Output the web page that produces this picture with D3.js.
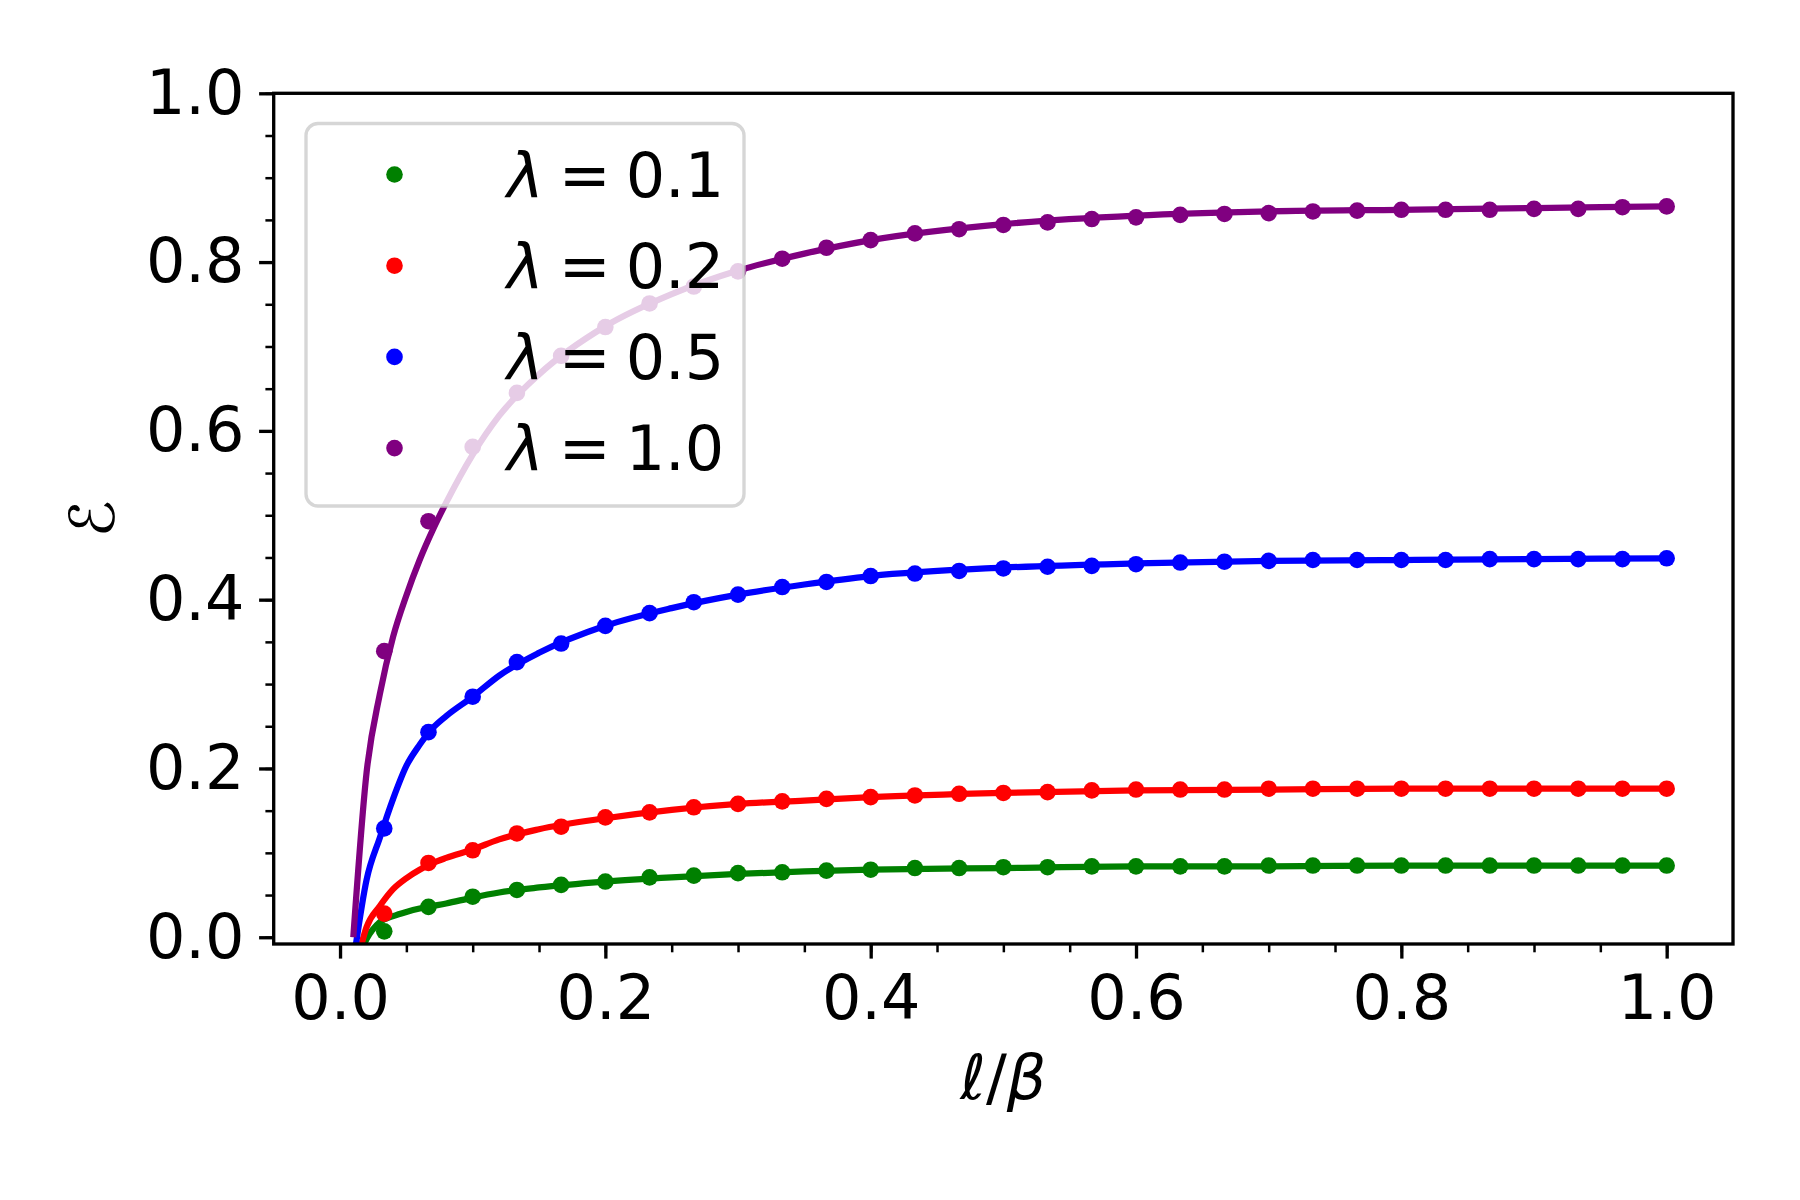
<!DOCTYPE html>
<html>
<head>
<meta charset="utf-8">
<script src="https://cdn.jsdelivr.net/npm/d3@7"></script>
<style>
  html, body { margin: 0; padding: 0; background: #ffffff; }
  svg { display: block; }
</style>
</head>
<body>
<svg id="chart" width="1800" height="1200"></svg>
<script>
// ---------------- data ----------------
const seriesNames = ["λ = 0.1", "λ = 0.2", "λ = 0.5", "λ = 1.0"];
const seriesColors = ["#008000", "#ff0000", "#0000ff", "#800080"];

// marker positions (ℓ/β = k/30)
const pointX = [1/30, 2/30, 3/30, 4/30, 5/30, 6/30, 7/30, 8/30, 9/30, 10/30,
                11/30, 12/30, 13/30, 14/30, 15/30, 16/30, 17/30, 18/30, 19/30, 20/30,
                21/30, 22/30, 23/30, 24/30, 25/30, 26/30, 27/30, 28/30, 29/30, 30/30];
const pointsL01 = [0.007, 0.036, 0.048, 0.056, 0.062, 0.066, 0.071, 0.073, 0.076, 0.077,
                   0.079, 0.080, 0.082, 0.082, 0.083, 0.083, 0.084, 0.084, 0.084, 0.084,
                   0.085, 0.085, 0.085, 0.085, 0.085, 0.085, 0.085, 0.085, 0.085, 0.085];
const pointsL02 = [0.028, 0.088, 0.103, 0.123, 0.131, 0.142, 0.148, 0.154, 0.158, 0.161,
                   0.164, 0.166, 0.168, 0.170, 0.171, 0.172, 0.174, 0.175, 0.175, 0.175,
                   0.176, 0.176, 0.176, 0.176, 0.176, 0.176, 0.176, 0.176, 0.176, 0.176];
const pointsL05 = [0.129, 0.243, 0.285, 0.326, 0.348, 0.369, 0.384, 0.397, 0.406, 0.415,
                   0.421, 0.428, 0.431, 0.434, 0.437, 0.439, 0.440, 0.442, 0.444, 0.445,
                   0.446, 0.447, 0.447, 0.447, 0.447, 0.448, 0.448, 0.448, 0.448, 0.449];
const pointsL10 = [0.339, 0.493, 0.581, 0.645, 0.689, 0.723, 0.751, 0.771, 0.789, 0.804,
                   0.817, 0.826, 0.834, 0.839, 0.844, 0.847, 0.851, 0.853, 0.856, 0.857,
                   0.858, 0.860, 0.861, 0.862, 0.862, 0.862, 0.863, 0.863, 0.865, 0.866];

// solid curves
const lineX   = [0.01, 0.02, 0.03, 0.04, 0.05, 0.06, 0.07, 0.08, 0.10, 0.12, 0.15,
                 0.20, 0.25, 0.30, 0.35, 0.40, 0.50, 0.60, 0.70, 0.80, 0.90, 1.00];
const lineL01 = [-0.040, -0.002, 0.018, 0.025, 0.030, 0.034, 0.037, 0.040, 0.047, 0.053, 0.059,
                 0.066, 0.071, 0.075, 0.078, 0.080, 0.082, 0.084, 0.084, 0.085, 0.085, 0.085];
const lineL02 = [-0.050, 0.012, 0.037, 0.057, 0.070, 0.080, 0.088, 0.094, 0.104, 0.116, 0.128,
                 0.141, 0.151, 0.158, 0.162, 0.166, 0.171, 0.174, 0.175, 0.176, 0.176, 0.176];
const lineL05 = [-0.030, 0.068, 0.118, 0.164, 0.203, 0.228, 0.248, 0.262, 0.285, 0.310, 0.337,
                 0.369, 0.390, 0.406, 0.418, 0.428, 0.438, 0.443, 0.446, 0.447, 0.448, 0.449];
const lineL10 = [0.000, 0.195, 0.288, 0.356, 0.405, 0.447, 0.483, 0.515, 0.572, 0.618, 0.667,
                 0.724, 0.762, 0.790, 0.810, 0.826, 0.845, 0.855, 0.860, 0.862, 0.864, 0.866];

const xTicks = [0.0, 0.2, 0.4, 0.6, 0.8, 1.0];
const yTicks = [0.0, 0.2, 0.4, 0.6, 0.8, 1.0];
const xMinorTicks = d3.range(0, 21).map(i => i * 0.05).filter(v => v <= 1.05);
const yMinorTicks = d3.range(0, 21).map(i => i * 0.05);

const pointSets = [pointsL01, pointsL02, pointsL05, pointsL10];
const lineSets = [lineL01, lineL02, lineL05, lineL10];

// ---------------- layout ----------------
const L = 273.7, R = 1733, T = 93.3, B = 944;
const x = d3.scaleLinear().domain([-0.05, 1.05]).range([L, R]);
const y = d3.scaleLinear().domain([-0.008, 1.0]).range([B, T]);

const FONT = "'DejaVu Sans', sans-serif";
const FS = 62;
const svg = d3.select("#chart");

svg.append("defs").append("clipPath").attr("id", "plotclip")
  .append("rect").attr("x", L).attr("y", T).attr("width", R - L).attr("height", B - T);

// ---------------- series ----------------
const plot = svg.append("g").attr("clip-path", "url(#plotclip)");
const lineGen = d3.line().x(d => x(d[0])).y(d => y(d[1])).curve(d3.curveMonotoneX);

seriesNames.forEach((name, i) => {
  const lineData = lineX.map((v, k) => [v, lineSets[i][k]]);
  plot.append("path")
    .attr("d", lineGen(lineData))
    .attr("fill", "none")
    .attr("stroke", seriesColors[i])
    .attr("stroke-width", 6.25)
    .attr("stroke-linejoin", "round")
    .attr("stroke-linecap", "butt");
  plot.append("g").selectAll("circle")
    .data(pointX.map((v, k) => [v, pointSets[i][k]]))
    .join("circle")
    .attr("cx", d => x(d[0]))
    .attr("cy", d => y(d[1]))
    .attr("r", 8.3)
    .attr("fill", seriesColors[i]);
});

// ---------------- axes ----------------
function styleAxis(g) {
  g.select(".domain").remove();
  g.selectAll(".tick line").attr("stroke", "#000").attr("stroke-width", 2.5);
  g.selectAll(".tick text").attr("fill", "#000").attr("font-family", FONT).attr("font-size", FS);
}

const xMajor = svg.append("g").attr("transform", `translate(0,${B})`)
  .call(d3.axisBottom(x).tickValues(xTicks).tickFormat(d3.format(".1f")).tickSize(14.6).tickPadding(16));
styleAxis(xMajor);
xMajor.selectAll(".tick line").attr("stroke-width", 3.33);
const xMinor = svg.append("g").attr("transform", `translate(0,${B})`)
  .call(d3.axisBottom(x).tickValues(xMinorTicks).tickFormat("").tickSize(8.3));
styleAxis(xMinor);

const yMajor = svg.append("g").attr("transform", `translate(${L},0)`)
  .call(d3.axisLeft(y).tickValues(yTicks).tickFormat(d3.format(".1f")).tickSize(14.6).tickPadding(14.6));
styleAxis(yMajor);
yMajor.selectAll(".tick line").attr("stroke-width", 3.33);
const yMinor = svg.append("g").attr("transform", `translate(${L},0)`)
  .call(d3.axisLeft(y).tickValues(yMinorTicks).tickFormat("").tickSize(8.3));
styleAxis(yMinor);

// spines
svg.append("rect")
  .attr("x", L).attr("y", T).attr("width", R - L).attr("height", B - T)
  .attr("fill", "none").attr("stroke", "#000").attr("stroke-width", 3.33);

// axis labels
const xl = svg.append("text")
  .attr("x", (L + R) / 2).attr("y", 1099)
  .attr("text-anchor", "middle")
  .attr("font-family", FONT).attr("font-size", FS).attr("fill", "#000");
xl.append("tspan").attr("font-style", "italic").text("ℓ");
xl.append("tspan").text("/");
xl.append("tspan").attr("font-style", "italic").text("β");

svg.append("text")
  .attr("transform", `translate(114,${(T + B) / 2}) rotate(-90)`)
  .attr("text-anchor", "middle")
  .attr("font-family", "'DejaVu Serif', 'DejaVu Sans', serif")
  .attr("font-style", "italic")
  .attr("font-size", FS).attr("fill", "#000")
  .text("ℰ");

// ---------------- legend ----------------
const leg = svg.append("g");
leg.append("rect")
  .attr("x", 306).attr("y", 123.5).attr("width", 438).attr("height", 382.5)
  .attr("rx", 12).attr("ry", 12)
  .attr("fill", "#ffffff").attr("fill-opacity", 0.8)
  .attr("stroke", "#cccccc").attr("stroke-opacity", 0.8).attr("stroke-width", 3.33);

seriesNames.forEach((name, i) => {
  const cy = 174.5 + i * 91.2;
  leg.append("circle").attr("cx", 394.5).attr("cy", cy).attr("r", 8.3).attr("fill", seriesColors[i]);
  const t = leg.append("text")
    .attr("x", 507).attr("y", cy + 22)
    .attr("font-family", FONT).attr("font-size", FS).attr("fill", "#000");
  const parts = name.split(" = ");
  t.append("tspan").attr("font-style", "italic").text(parts[0]);
  t.append("tspan").attr("dx", 15).text("=");
  t.append("tspan").attr("dx", 15).text(parts[1]);
});
</script>
</body>
</html>
